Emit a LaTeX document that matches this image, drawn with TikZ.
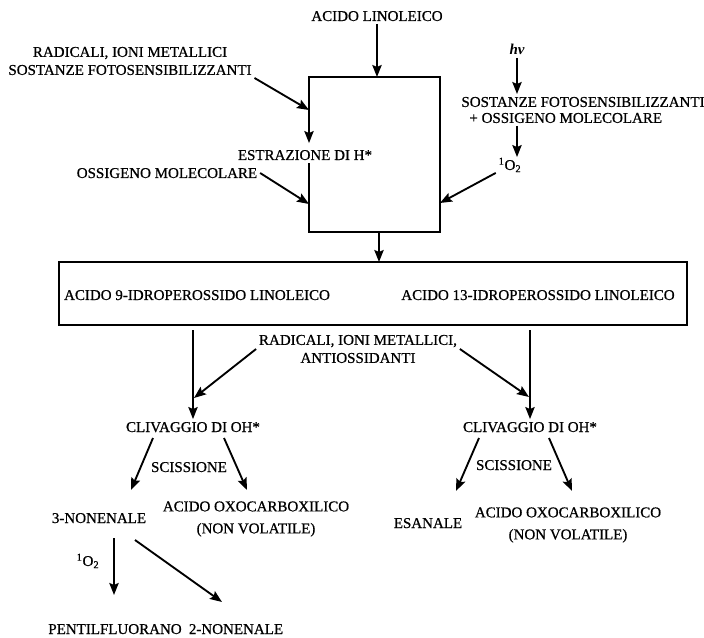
\documentclass[tikz,border=0pt]{standalone}
\usepackage{fontspec}
\setmainfont{Liberation Serif}[UprightFeatures={FakeBold=0.7}]
\usetikzlibrary{arrows.meta}

\tikzset{
	lbl/.style={inner sep=2pt, text height=7.5pt, text depth=0pt, font=\fontsize{11.25}{13.5}\selectfont},
	lblm/.style={inner sep=2pt, align=center, font=\fontsize{11.25}{13.5}\selectfont},
	lbloxo/.style={lblm, font=\fontsize{11.25}{16.5}\selectfont},
	arr/.style={line width=1.4pt, -{Stealth[length=9pt,width=7pt,inset=1.5pt]}},
	boxline/.style={line width=1.5pt},
}

\begin{document}
\begin{tikzpicture}[x=0.75pt,y=-0.75pt]
	\useasboundingbox (0,0) rectangle (704,638);
	% upper part
	\node[lbl] (acido) at (377,16) {ACIDO LINOLEICO};
	\node[lblm] (radsx) at (130,61) {RADICALI, IONI METALLICI\\SOSTANZE FOTOSENSIBILIZZANTI};
	\node[lbl] (estr) at (305,155) {ESTRAZIONE DI H*};
	\node[lbl] (ossx) at (167,173) {OSSIGENO MOLECOLARE};
	\node[lbl, font=\fontsize{11.25}{13.5}\selectfont\bfseries\itshape] (hv) at (517,50) {hv};
	\node[lblm, align=left, font=\fontsize{11.25}{12}\selectfont] (sost) at (583,110) {SOSTANZE FOTOSENSIBILIZZANTI\\\hspace*{6pt}+ OSSIGENO MOLECOLARE};
	\node[lbl] (o2) at (510,165) {\textsuperscript{1}O\textsubscript{2}};
	% box 1
	\coordinate (b1nw) at (309,77);
	\coordinate (b1ne) at (440,77);
	\coordinate (b1se) at (440,232);
	\coordinate (b1sw) at (309,232);
	\coordinate (p1) at (309,110);
	\coordinate (p2) at (309,204);
	\coordinate (p3) at (440,203);
	\coordinate (out1) at (379,232);
	\draw[boxline] (p1) -- (b1nw) -- (b1ne) -- (b1se) -- (b1sw) -- (estr.south -| b1sw);
	\draw[arr] (acido) -- (acido |- b1nw);
	\draw[arr] (radsx.south east) -- (p1);
	\draw[arr, shorten >=3pt] (p1) -- (estr.north -| p1);
	\draw[arr] (ossx.east) -- (p2);
	\draw[arr] (hv) -- (hv |- sost.north);
	\draw[arr] (hv |- sost.south) -- (hv |- o2.north);
	\draw[arr] (o2.south west) -- (p3);
	% box 2
	\coordinate (b2nw) at (59,262);
	\coordinate (b2se) at (687,325);
	\draw[boxline] (b2nw) rectangle (b2se);
	\draw[arr] (out1) -- (out1 |- b2nw);
	\node[lbl] (idro9) at (197,295) {ACIDO 9-IDROPEROSSIDO LINOLEICO};
	\node[lbl] (idro13) at (538,295) {ACIDO 13-IDROPEROSSIDO LINOLEICO};
	\node[lblm] (radlow) at (358,349) {RADICALI, IONI METALLICI,\\ANTIOSSIDANTI};
	\node[lbl] (cliv9) at (193,427) {CLIVAGGIO DI OH*};
	\node[lbl] (cliv13) at (530,427) {CLIVAGGIO DI OH*};
	\coordinate (m9) at (194,398);
	\coordinate (m13) at (529,397);
	\draw[arr, shorten <=4pt] (cliv9 |- b2se) -- (cliv9);
	\draw[arr, shorten <=4pt] (cliv13 |- b2se) -- (cliv13);
	\draw[arr] (radlow.west) -- (m9);
	\draw[arr] (radlow.east) -- (m13);
	% scissione
	\node[lbl] (sciss9) at (189,467) {SCISSIONE};
	\node[lbl] (sciss13) at (514,465) {SCISSIONE};
	\node[lbl] (non3) at (99,518) {3-NONENALE};
	\node[lbloxo] (oxo9) at (256,519) {ACIDO OXOCARBOXILICO\\(NON VOLATILE)};
	\node[lbl] (esan) at (428,523) {ESANALE};
	\node[lbloxo] (oxo13) at (568,525) {ACIDO OXOCARBOXILICO\\(NON VOLATILE)};
	\coordinate (s9a) at (153,438);
	\coordinate (s9b) at (224,438);
	\coordinate (s13a) at (479,438);
	\coordinate (s13b) at (549,438);
	\coordinate (t9a) at (131,490);
	\coordinate (t9b) at (247,490);
	\coordinate (t13a) at (456,491);
	\coordinate (t13b) at (572,491);
	\foreach \a/\b in {s9a/t9a, s9b/t9b, s13a/t13a, s13b/t13b}
		\draw[arr] (\a) -- (\b);
	% 3-nonenale
	\node[lbl] (o2b) at (88,561) {\textsuperscript{1}O\textsubscript{2}};
	\node[lbl] (pent) at (115,629) {PENTILFLUORANO};
	\node[lbl] (non2) at (236,629) {2-NONENALE};
	\coordinate (n3a) at (114,538);
	\coordinate (n3b) at (135,540);
	\coordinate (tp) at (114,595);
	\coordinate (tn) at (222,602);
	\draw[arr] (n3a) -- (tp);
	\draw[arr] (n3b) -- (tn);
\end{tikzpicture}
\end{document}
